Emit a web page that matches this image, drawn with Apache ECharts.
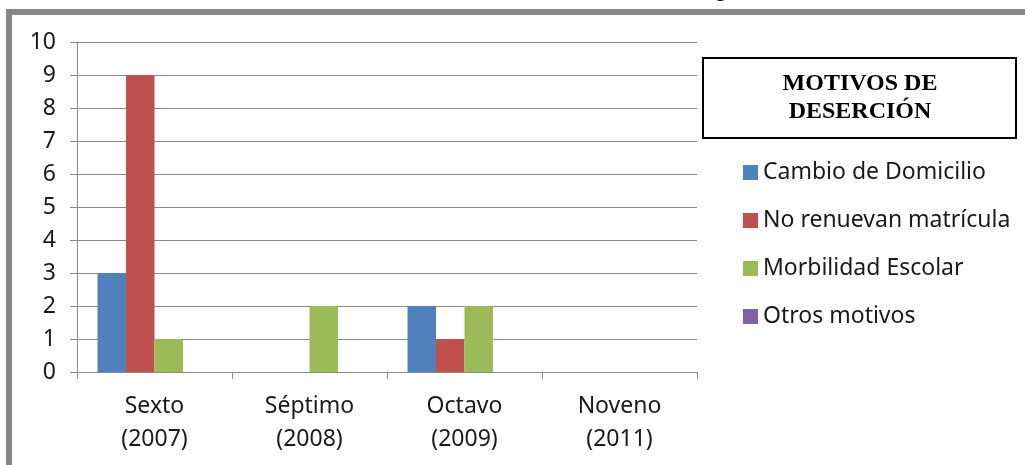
<!DOCTYPE html>
<html>
<head>
<meta charset="utf-8">
<script src="https://cdn.jsdelivr.net/npm/echarts@6/dist/echarts.min.js"></script>
<style>
html,body{margin:0;padding:0;background:#fff;}
#c{width:1025px;height:465px;}
</style>
</head>
<body>
<div id="c"></div>
<script>
const categories = ["Sexto\n(2007)", "Séptimo\n(2008)", "Octavo\n(2009)", "Noveno\n(2011)"];
const cambioDomicilio = [3, 0, 2, 0];
const noRenuevan = [9, 0, 1, 0];
const morbilidad = [1, 2, 2, 0];
const otrosMotivos = [0, 0, 0, 0];
const seriesNames = ["Cambio de Domicilio", "No renuevan matrícula", "Morbilidad Escolar", "Otros motivos"];
const yTicks = {min: 0, max: 10, interval: 1};
const legendTitle = "MOTIVOS DE\nDESERCIÓN";

const colors = ["#4F81BD", "#C0504D", "#9BBB59", "#8064A2"];
const seriesData = [cambioDomicilio, noRenuevan, morbilidad, otrosMotivos];

const chart = echarts.init(document.getElementById('c'), null, {renderer: 'canvas'});
const fontFam = '"Noto Sans", Lato, sans-serif';

chart.setOption({
  animation: false,
  backgroundColor: '#ffffff',
  color: colors,
  grid: {left: 77, right: 328, top: 42, bottom: 93, containLabel: false},
  xAxis: {
    type: 'category',
    data: categories,
    axisLine: {show: true, lineStyle: {color: '#8a8a8a', width: 1}},
    axisTick: {show: true, length: 7, alignWithLabel: false, lineStyle: {color: '#8a8a8a'}},
    axisLabel: {fontSize: 23, lineHeight: 33, color: '#1a1a1a', fontFamily: fontFam, margin: 18, interval: 0}
  },
  yAxis: {
    type: 'value',
    min: yTicks.min, max: yTicks.max, interval: yTicks.interval,
    axisLine: {show: true, lineStyle: {color: '#8a8a8a', width: 1}},
    axisTick: {show: true, length: 7, lineStyle: {color: '#8a8a8a'}},
    axisLabel: {fontSize: 23, color: '#1a1a1a', fontFamily: fontFam, margin: 21},
    splitLine: {show: true, lineStyle: {color: '#8a8a8a', width: 1}}
  },
  legend: {
    orient: 'vertical',
    left: 738,
    top: 156,
    itemWidth: 15,
    itemHeight: 15,
    itemGap: 25,
    icon: 'rect',
    data: seriesNames,
    textStyle: {fontSize: 23, lineHeight: 22, color: '#1a1a1a', fontFamily: fontFam}
  },
  graphic: [
    {type: 'rect', shape: {x: 9, y: 12, width: 1200, height: 700},
     style: {fill: 'none', stroke: '#878787', lineWidth: 6}, silent: true, z: 100},
    {type: 'text', style: {text: 'g', x: 713, y: 2, verticalAlign: 'bottom', font: 'bold 26px "Liberation Sans"', fill: '#000'}, z: 100},
    {type: 'rect', shape: {x: 703, y: 58, width: 313, height: 80},
     style: {fill: '#fff', stroke: '#000', lineWidth: 2}, z: 50},
    {type: 'text', style: {text: legendTitle, x: 860, y: 98, align: 'center', verticalAlign: 'middle',
      font: 'bold 24px "Liberation Serif"', lineHeight: 28.5, fill: '#000'}, z: 51}
  ],
  series: seriesNames.map((n, i) => ({
    name: n,
    type: 'bar',
    data: seriesData[i],
    barGap: '0%',
    barCategoryGap: '26.5%',
    itemStyle: {color: colors[i]}
  }))
});
</script>
</body>
</html>
